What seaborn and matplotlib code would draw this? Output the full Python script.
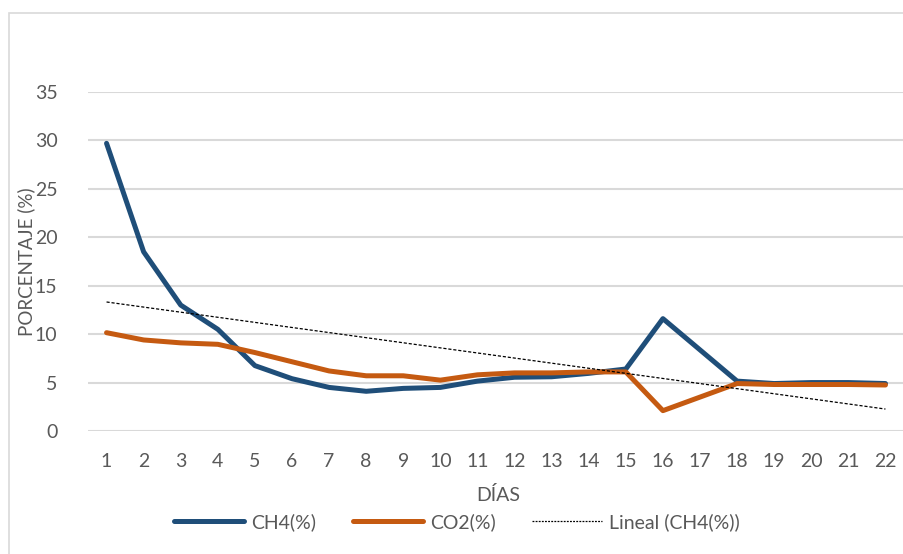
import numpy as np
import pandas as pd
import matplotlib
matplotlib.use("Agg")
import matplotlib.pyplot as plt
from matplotlib.lines import Line2D
from matplotlib.patches import Rectangle
import seaborn as sns

# Días de muestreo (el día 17 no tiene medición)
dias = list(range(1, 23))
ch4 = [29.7, 18.5, 13.0, 10.5, 6.75, 5.4, 4.5, 4.1, 4.4, 4.5, 5.15,
       5.55, 5.6, 5.95, 6.4, 11.6, None, 5.15, 4.9, 5.0, 5.0, 4.9]
co2 = [10.15, 9.4, 9.1, 8.95, 8.1, 7.15, 6.2, 5.7, 5.7, 5.25, 5.8,
       6.0, 6.0, 6.1, 6.1, 2.1, None, 4.9, 4.8, 4.8, 4.8, 4.75]
y_ticks = [0, 5, 10, 15, 20, 25, 30, 35]

df = pd.DataFrame({"dia": dias, "CH4": ch4, "CO2": co2}).astype(float)

sns.set_theme(style="white")
plt.rcParams["font.family"] = ["Lato", "DejaVu Sans"]

text_color = "#595959"
grid_color = "#d9d9d9"
c_ch4 = "#1F4E79"
c_co2 = "#C55A11"
fs = 14

fig = plt.figure(figsize=(9.04, 5.54), dpi=100)
ax = fig.add_axes([88 / 904, 1 - 431 / 554, 1 - 88 / 904, (431 - 92) / 554])

for y in y_ticks:
    ax.axhline(y, color=grid_color, lw=1.5, zorder=0)

d1 = df[["dia", "CH4"]].dropna()
d2 = df[["dia", "CO2"]].dropna()
sns.lineplot(data=d1, x="dia", y="CH4", ax=ax, color=c_ch4, lw=3.6,
             solid_capstyle="round", solid_joinstyle="round", zorder=3)
sns.lineplot(data=d2, x="dia", y="CO2", ax=ax, color=c_co2, lw=3.6,
             solid_capstyle="round", solid_joinstyle="round", zorder=4)

# Línea de tendencia lineal del CH4
m, b = np.polyfit(d1["dia"], d1["CH4"], 1)
xt = np.array([dias[0], dias[-1]], dtype=float)
ax.plot(xt, m * xt + b, color="black", lw=0.9, ls=(0, (2.5, 1.5)), zorder=5)

ax.set_xlim(0.5, 22.5)
ax.set_ylim(0, 35)
ax.set_xticks(dias)
ax.set_xticklabels([str(d) for d in dias])
ax.set_yticks(y_ticks)
ax.tick_params(axis="both", length=0, labelsize=fs, labelcolor=text_color)
ax.tick_params(axis="y", pad=22)
ax.tick_params(axis="x", pad=16)
ax.set_xlabel("")
ax.set_ylabel("")
for s in ax.spines.values():
    s.set_visible(False)

fig.text(498 / 904, 1 - 495 / 554, "DÍAS", ha="center", va="center",
         fontsize=fs, color=text_color)
fig.text(26 / 904, 1 - 262 / 554, "PORCENTAJE (%)", ha="center", va="center",
         rotation=90, fontsize=13.5, color=text_color)

handles = [
    Line2D([], [], color=c_ch4, lw=3.6, solid_capstyle="round"),
    Line2D([], [], color=c_co2, lw=3.6, solid_capstyle="round"),
    Line2D([], [], color="black", lw=0.9, ls=(0, (1.5, 1.0))),
]
leg = fig.legend(handles, ["CH4(%)", "CO2(%)", "Lineal (CH4(%))"],
                 loc="center", bbox_to_anchor=(457 / 904, 1 - 522 / 554),
                 ncol=3, frameon=False, fontsize=fs, handlelength=3.6,
                 handletextpad=0.35, columnspacing=1.9)
for t in leg.get_texts():
    t.set_color(text_color)

# Borde del área del gráfico
fig.patches.append(Rectangle((9 / 904, -0.1), 1.2, 1.1 - 13 / 554,
                             transform=fig.transFigure, fill=False,
                             edgecolor=grid_color, lw=1.2))

fig.savefig("out.png", dpi=100)
